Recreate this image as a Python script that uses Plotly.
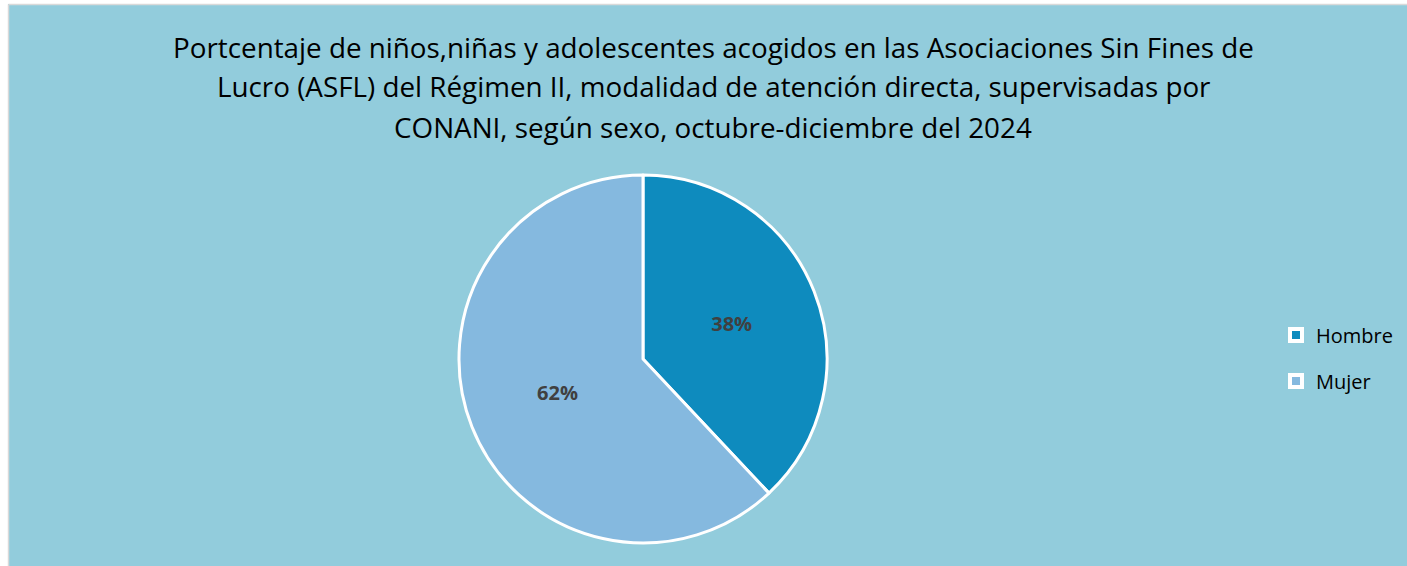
import plotly.graph_objects as go

labels = ["Hombre", "Mujer"]
values = [38, 62]
colors = ["#0E8BBE", "#85B9DF"]
title_lines = [
    "Portcentaje de niños,niñas y adolescentes acogidos en las Asociaciones Sin Fines de",
    "Lucro (ASFL) del Régimen II, modalidad de atención directa, supervisadas por",
    "CONANI, según sexo, octubre-diciembre del 2024",
]

W, H = 1407, 566
BG = "#92CCDC"
TITLE_Y = [47, 86, 127]  # pixel centres of the title lines

fig = go.Figure()
fig.add_trace(go.Pie(
    labels=labels, values=values, sort=False, direction="clockwise", rotation=0,
    marker=dict(colors=colors, line=dict(color="white", width=3)),
    texttemplate="<b>%{percent:.0%}</b>", textposition="inside",
    textfont=dict(family="Open Sans", size=20, color="#404040"),
    insidetextorientation="horizontal",
    domain=dict(x=[459 / W, 827 / W], y=[(H - 543) / H, (H - 175) / H]),
    hoverinfo="label+percent", showlegend=False,
))
# legend entries (one group per slice so the spacing between entries can be set)
for lab, col in zip(labels, colors):
    fig.add_trace(go.Scatter(
        x=[None], y=[None], mode="markers", name=lab, legendgroup=lab,
        marker=dict(symbol="square", size=12, color=col, line=dict(color="white", width=4)),
    ))

annotations = [
    dict(text=line, xref="paper", yref="paper", x=713 / W, y=1 - yc / H,
         xanchor="center", yanchor="middle", showarrow=False,
         font=dict(family="Open Sans", size=27.8, color="#000000"))
    for line, yc in zip(title_lines, TITLE_Y)
]

fig.update_layout(
    width=W, height=H,
    margin=dict(l=0, r=0, t=0, b=0),
    paper_bgcolor=BG, plot_bgcolor=BG,
    xaxis=dict(visible=False), yaxis=dict(visible=False),
    annotations=annotations,
    legend=dict(
        x=1276 / W, xanchor="left", y=1 - 358 / H, yanchor="middle",
        font=dict(family="Open Sans", size=20, color="#000000"),
        bgcolor="rgba(0,0,0,0)", itemwidth=30, tracegroupgap=17, itemsizing="trace",
    ),
    shapes=[
        dict(type="rect", xref="paper", yref="paper", x0=0, x1=8 / W, y0=0, y1=1,
             fillcolor="white", line=dict(width=0), layer="below"),
        dict(type="rect", xref="paper", yref="paper", x0=0, x1=1, y0=1 - 4 / H, y1=1,
             fillcolor="white", line=dict(width=0), layer="below"),
        dict(type="line", xref="paper", yref="paper", x0=8.5 / W, x1=8.5 / W, y0=0, y1=1 - 4.5 / H,
             line=dict(color="#D9D9D9", width=1.5)),
        dict(type="line", xref="paper", yref="paper", x0=8.5 / W, x1=1, y0=1 - 4.5 / H, y1=1 - 4.5 / H,
             line=dict(color="#D9D9D9", width=1.5)),
    ],
)

fig.write_html("out.html", config={"displayModeBar": False},
               post_script="document.body.style.margin='0';")
